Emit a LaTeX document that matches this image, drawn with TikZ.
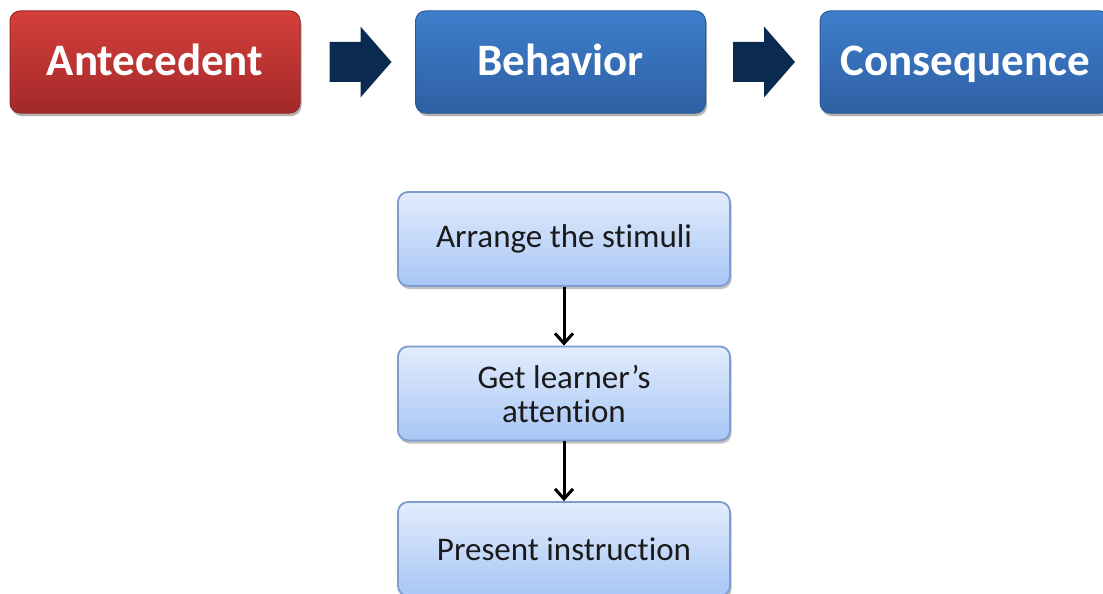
\documentclass[tikz,border=0pt]{standalone}
\usepackage{fontspec}
\setmainfont[Ligatures={NoCommon}]{Carlito}
\usetikzlibrary{shadows,arrows.meta,calc}
\definecolor{redtop}{HTML}{D4403B}
\definecolor{redbot}{HTML}{A3292A}
\definecolor{redline}{HTML}{9A2826}
\definecolor{bluetop}{HTML}{3F7FCC}
\definecolor{bluebot}{HTML}{2D5FA3}
\definecolor{blueline}{HTML}{2C5A98}
\definecolor{navy}{HTML}{0B2A4F}
\definecolor{lighttop}{HTML}{E2ECFC}
\definecolor{lightbot}{HTML}{A8C6F6}
\definecolor{lightline}{HTML}{7C9DCD}
\definecolor{darktext}{HTML}{1A1A1A}
\tikzset{
  x=1pt,y=1pt,
  topbox/.style={rounded corners=10pt, minimum width=290pt, minimum height=102pt,
    inner sep=0pt, text=white, font=\fontsize{45}{50}\selectfont\bfseries,
    text height=34pt, text depth=6pt,
    line width=1pt,
    drop shadow={shadow xshift=1.5pt, shadow yshift=-3pt, opacity=0.3, fill=black}},
  redbox/.style={topbox, top color=redtop, bottom color=redbot, draw=redline},
  bluebox/.style={topbox, top color=bluetop, bottom color=bluebot, draw=blueline},
  stepbox/.style={rounded corners=10pt, minimum width=332pt, minimum height=94pt,
    inner sep=0pt, align=center, text=darktext,
    font=\fontsize{33}{34}\selectfont,
    top color=lighttop, bottom color=lightbot, draw=lightline, line width=1.8pt,
    drop shadow={shadow xshift=1.5pt, shadow yshift=-3pt, opacity=0.25, fill=black}},
  flowarrow/.style={draw=black, line width=3pt,
    -{Straight Barb[length=10pt,width=18pt,line width=3pt]}},
  blockarrow/.style={fill=navy}
}
\begin{document}
\begin{tikzpicture}
\useasboundingbox (0,0) rectangle (1103,-594);
\clip (0,0) rectangle (1103,-594);
\node[redbox] (ante) at (155,-62) {Antecedent};
\node[bluebox] (beh) at (560.5,-62) {Behavior};
\node[bluebox] (cons) at (965,-62) {Consequence};
\fill[blockarrow] ([xshift=29pt,yshift=20pt]ante.east) -- ++(31,0) -- ++(0,15.5) -- ++(31,-35.5) -- ++(-31,-35.5) -- ++(0,15.5) -- ++(-31,0) -- cycle;
\fill[blockarrow] ([xshift=27pt,yshift=20pt]beh.east) -- ++(31,0) -- ++(0,15.5) -- ++(31,-35.5) -- ++(-31,-35.5) -- ++(0,15.5) -- ++(-31,0) -- cycle;
\node[stepbox] (s1) at (564,-239) {Arrange the stimuli};
\node[stepbox] (s2) at (564,-393.5) {Get learner’s\\attention};
\node[stepbox] (s3) at (564,-549) {Present instruction};
\draw[flowarrow] (s1.south) -- (s2.north);
\draw[flowarrow] (s2.south) -- (s3.north);
\end{tikzpicture}
\end{document}
